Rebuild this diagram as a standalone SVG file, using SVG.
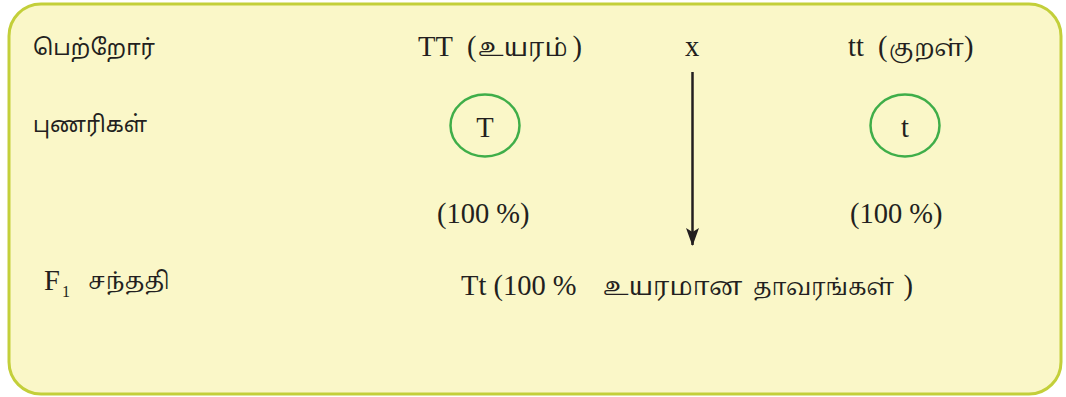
<svg xmlns="http://www.w3.org/2000/svg" width="1066" height="397" viewBox="0 0 1066 397">
<style>
.lbl{font-family:"Noto Sans Tamil","Lohit Tamil","Noto Sans",sans-serif;font-size:22.5px;fill:#231f20}
.ser{font-family:"Liberation Serif","Noto Serif Tamil",serif;font-size:28.5px;fill:#231f20}
.tam{font-family:"Noto Serif Tamil","Noto Sans Tamil","Lohit Tamil",serif;font-size:25px;fill:#231f20}
.sub{font-family:"Liberation Serif",serif;font-size:16px;fill:#231f20}
.ring{fill:none;stroke:#3fae49;stroke-width:2.5}
</style>
<defs>
<marker id="ah" viewBox="0 0 18 13" refX="17" refY="6.5" markerWidth="18" markerHeight="13" markerUnits="userSpaceOnUse" orient="auto">
<path d="M0,0 L18,6.5 L0,13 L4,6.5 Z" fill="#231f20"/>
</marker>
</defs>
<rect x="9" y="4" width="1052" height="390" rx="32" ry="32" fill="#faf7c8" stroke="#c3cf3a" stroke-width="3"/>
<g id="row-labels">
<text class="lbl" x="33" y="55" textLength="122" lengthAdjust="spacingAndGlyphs">பெற்றோர்</text>
<text class="lbl" x="33" y="132" textLength="114" lengthAdjust="spacingAndGlyphs">புணரிகள்</text>
<text class="ser" x="44" y="290">F</text>
<text class="sub" x="62" y="297">1</text>
<text class="tam" x="88" y="289" style="font-size:23.5px">சந்ததி</text>
</g>
<g id="parent-TT">
<text class="ser" x="418" y="56">TT</text>
<text class="ser" x="467" y="56">(</text>
<text class="tam" x="478" y="56">உயரம்</text>
<text class="ser" x="572.5" y="56">)</text>
</g>
<g id="cross">
<text class="ser" x="685" y="56">x</text>
</g>
<g id="parent-tt">
<text class="ser" x="848" y="56">tt</text>
<text class="ser" x="878" y="56">(</text>
<text class="tam" x="889" y="56" style="font-size:23.5px">குறள்</text>
<text class="ser" x="964" y="56">)</text>
</g>
<g id="gamete-T">
<ellipse class="ring" cx="485" cy="125.5" rx="34.5" ry="31"/>
<text class="ser" x="485" y="137" text-anchor="middle">T</text>
<text class="ser" x="437" y="223">(100 %)</text>
</g>
<g id="gamete-t">
<ellipse class="ring" cx="905" cy="125.5" rx="34.5" ry="31"/>
<text class="ser" x="905" y="137" text-anchor="middle">t</text>
<text class="ser" x="850" y="223">(100 %)</text>
</g>
<g id="f1">
<text class="ser" x="461" y="295">Tt (100 %</text>
<text class="tam" x="603" y="295">உயரமான</text>
<text class="tam" x="753" y="295" style="font-size:23.5px" textLength="141" lengthAdjust="spacingAndGlyphs">தாவரங்கள்</text>
<text class="ser" x="903.5" y="295">)</text>
</g>
<g id="connectors">
<line x1="692.5" y1="72" x2="692.5" y2="245" stroke="#231f20" stroke-width="2.5" marker-end="url(#ah)"/>
</g>
</svg>
